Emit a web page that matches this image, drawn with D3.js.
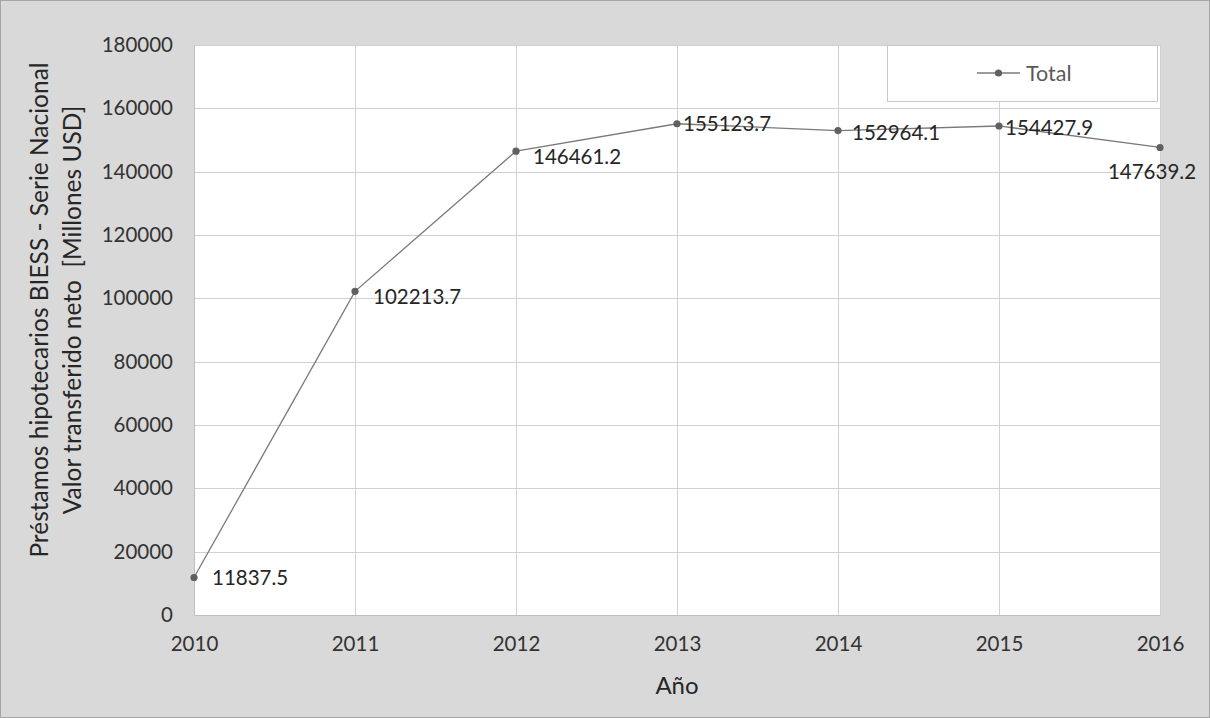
<!DOCTYPE html>
<html>
<head>
<meta charset="utf-8">
<script src="https://cdn.jsdelivr.net/npm/d3@7"></script>
<style>
  html, body { margin: 0; padding: 0; background: #fff; }
  svg { display: block; }
  text { font-family: Lato, "Open Sans", sans-serif; }
</style>
</head>
<body>
<svg id="chart" width="1210" height="718"></svg>
<script>
// Préstamos hipotecarios BIESS – valor transferido neto por año
const years = [2010, 2011, 2012, 2013, 2014, 2015, 2016];
const totals = [11837.5, 102213.7, 146461.2, 155123.7, 152964.1, 154427.9, 147639.2];
const yTicks = [0, 20000, 40000, 60000, 80000, 100000, 120000, 140000, 160000, 180000];
const seriesName = "Total";

const W = 1210, H = 718;
const plot = { left: 194, right: 1160, top: 45, bottom: 615 };

const svg = d3.select("#chart");

// chart background and frame
svg.append("rect").attr("x", 0.5).attr("y", 0.5).attr("width", W - 1).attr("height", H - 1)
  .attr("fill", "#d9d9d9").attr("stroke", "#a6a6a6").attr("stroke-width", 1);

svg.append("rect").attr("x", plot.left).attr("y", plot.top)
  .attr("width", plot.right - plot.left).attr("height", plot.bottom - plot.top)
  .attr("fill", "#ffffff");

const x = d3.scaleLinear().domain([years[0], years[years.length - 1]]).range([plot.left, plot.right]);
const y = d3.scaleLinear().domain([0, 180000]).range([plot.bottom, plot.top]);

// gridlines
svg.append("g").selectAll("line").data(yTicks.slice(1)).join("line")
  .attr("x1", plot.left).attr("x2", plot.right)
  .attr("y1", d => Math.round(y(d)) + 0.5).attr("y2", d => Math.round(y(d)) + 0.5)
  .attr("stroke", "#d0d0d0").attr("stroke-width", 1);
svg.append("g").selectAll("line").data(years.slice(1)).join("line")
  .attr("x1", d => Math.round(x(d)) + 0.5).attr("x2", d => Math.round(x(d)) + 0.5)
  .attr("y1", plot.top).attr("y2", plot.bottom)
  .attr("stroke", "#d0d0d0").attr("stroke-width", 1);

// axes
const yAxis = d3.axisLeft(y).tickValues(yTicks).tickSize(0).tickPadding(21).tickFormat(d3.format("d"));
const gy = svg.append("g").attr("transform", `translate(${plot.left},0)`).call(yAxis);
gy.select(".domain").attr("stroke", "#bfbfbf");
gy.selectAll("text").attr("font-size", 20.5).attr("fill", "#333").attr("font-family", "Lato, sans-serif");

const xAxis = d3.axisBottom(x).tickValues(years).tickSize(0).tickPadding(21).tickFormat(d3.format("d"));
const gx = svg.append("g").attr("transform", `translate(0,${plot.bottom})`).call(xAxis);
gx.select(".domain").attr("stroke", "#bfbfbf");
gx.selectAll("text").attr("font-size", 20.5).attr("fill", "#333").attr("font-family", "Lato, sans-serif");

// axis titles
svg.append("text").attr("x", (plot.left + plot.right) / 2).attr("y", 694)
  .attr("text-anchor", "middle").attr("font-size", 24).attr("fill", "#262626").text("Año");

const yTitle = svg.append("text")
  .attr("transform", `translate(48,310) rotate(-90)`)
  .attr("text-anchor", "middle").attr("font-size", 24.5).attr("fill", "#262626");
yTitle.append("tspan").attr("x", 0).attr("dy", 0).text("Préstamos hipotecarios BIESS - Serie Nacional");
yTitle.append("tspan").attr("x", 0).attr("dy", 33).attr("xml:space", "preserve")
  .text("Valor transferido neto  [Millones USD]");

// series line and markers
const pts = years.map((yr, i) => ({ yr, v: totals[i] }));
svg.append("path").datum(pts)
  .attr("fill", "none").attr("stroke", "#7a7a7a").attr("stroke-width", 1.3)
  .attr("d", d3.line().x(d => x(d.yr)).y(d => y(d.v)));
svg.append("g").selectAll("circle").data(pts).join("circle")
  .attr("cx", d => x(d.yr)).attr("cy", d => y(d.v)).attr("r", 3.6).attr("fill", "#606060");

// value labels (right of point, last one below)
const labelDx = [18, 18, 17, 6, 14, 6, 0];
const labelDy = [0, 6, 6, 0, 2, 2, 24];
const labelAnchor = ["start", "start", "start", "start", "start", "start", "middle"];
svg.append("g").selectAll("text").data(pts).join("text")
  .attr("x", (d, i) => x(d.yr) + labelDx[i] + (labelAnchor[i] === "middle" ? -8 : 0))
  .attr("y", (d, i) => y(d.v) + labelDy[i])
  .attr("dy", "0.35em")
  .attr("text-anchor", (d, i) => labelAnchor[i])
  .attr("font-size", 20.5).attr("fill", "#262626")
  .text(d => d.v.toFixed(1));

// legend
const lg = svg.append("g");
lg.append("rect").attr("x", 887.5).attr("y", 45.5).attr("width", 270).attr("height", 56)
  .attr("fill", "#fff").attr("stroke", "#c8c8c8");
lg.append("line").attr("x1", 977).attr("x2", 1020).attr("y1", 73).attr("y2", 73)
  .attr("stroke", "#7a7a7a").attr("stroke-width", 1.3);
lg.append("circle").attr("cx", 998.5).attr("cy", 73).attr("r", 3.6).attr("fill", "#606060");
lg.append("text").attr("x", 1026).attr("y", 73).attr("dy", "0.35em")
  .attr("font-size", 21.5).attr("fill", "#595959").text(seriesName);
</script>
</body>
</html>
